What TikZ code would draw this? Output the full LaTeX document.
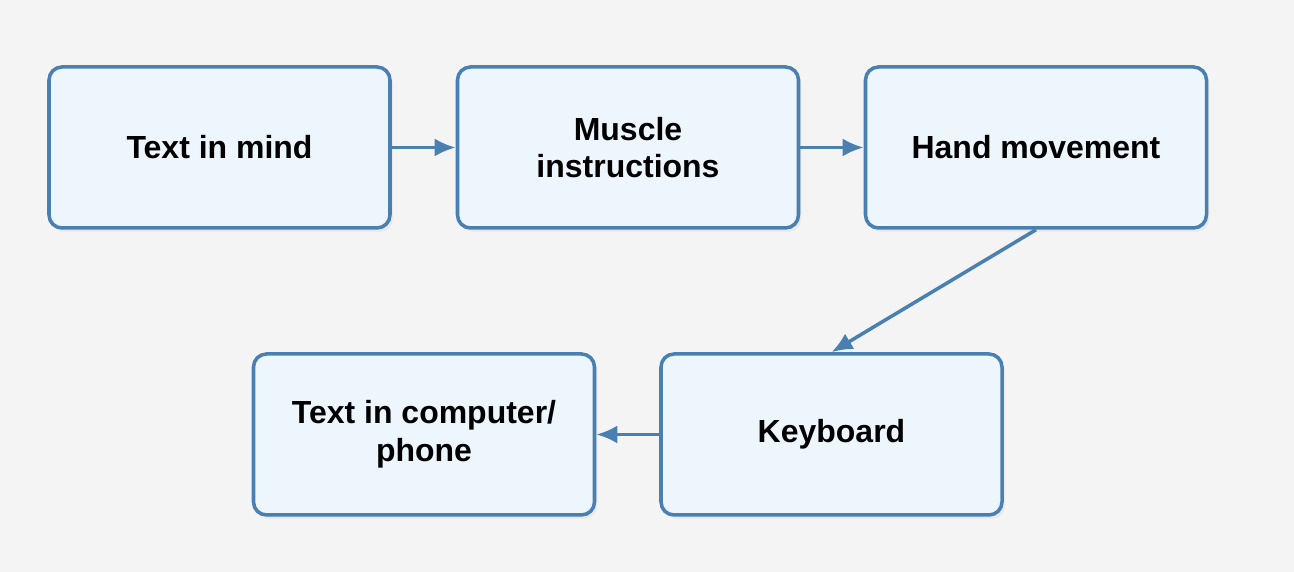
\documentclass[tikz,border=0pt]{standalone}
\usepackage{fontspec}
\setmainfont{Liberation Sans}
\usetikzlibrary{arrows.meta,shadows}
\definecolor{bgcol}{HTML}{F4F4F4}
\definecolor{boxfill}{HTML}{EEF6FD}
\definecolor{boxline}{HTML}{4A80B1}
\tikzset{
	flowbox/.style={draw=boxline, fill=boxfill, line width=2pt, rounded corners=0.26cm,
		minimum width=6.82cm, minimum height=3.22cm, align=center,
		font=\fontsize{18.2}{21.5}\selectfont\bfseries,
		drop shadow={opacity=0.08, shadow xshift=0.06cm, shadow yshift=-0.08cm}},
	flowarrow/.style={draw=boxline, line width=2pt, -{Latex[length=0.42cm, width=0.36cm]}}
}

\begin{document}
\begin{tikzpicture}
		%%%%% START %%%%%
		\fill[bgcol] (0, 0) rectangle (25.88, 11.44);
		
		\node[flowbox] (mind) at (4.39, 8.49) {Text in mind};
		\node[flowbox] (muscle) at (12.56, 8.49) {Muscle\\instructions};
		\node[flowbox] (hand) at (20.72, 8.49) {Hand movement};
		
		\node[flowbox] (keyboard) at (16.63, 2.75) {Keyboard};
		\node[flowbox] (screen) at (8.48, 2.75) {Text in computer/\\phone};
		
		\draw[flowarrow] (mind) -- (muscle);
		\draw[flowarrow] (muscle) -- (hand);
		\draw[flowarrow] (hand.south) -- (keyboard.north);
		\draw[flowarrow] (keyboard) -- (screen);
		%%%%% END %%%%%
	\end{tikzpicture}
\end{document}
